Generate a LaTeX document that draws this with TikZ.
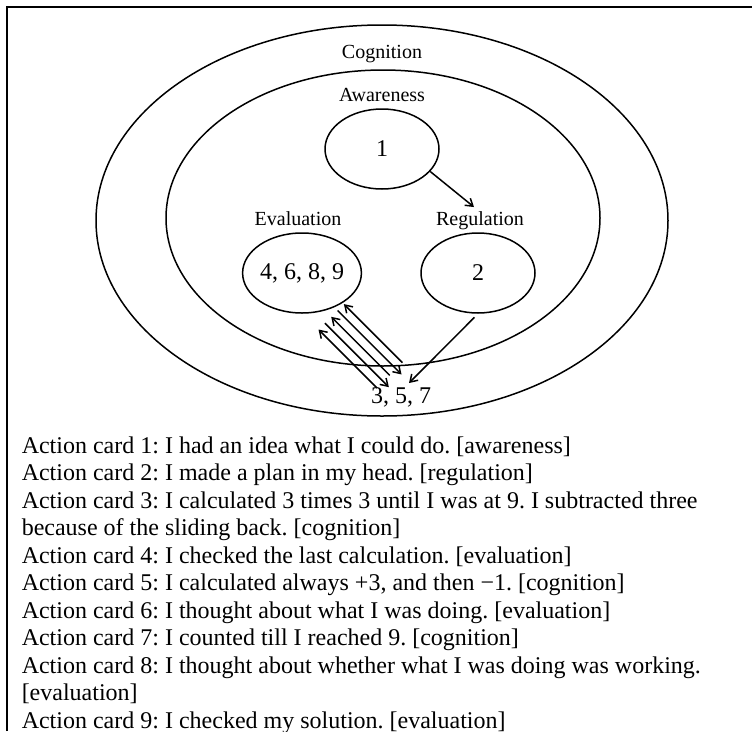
\documentclass[tikz,border=0pt]{standalone}
\usepackage{fontspec}
\setmainfont{Liberation Serif}
\usetikzlibrary{shapes.geometric}
\usetikzlibrary{arrows.meta}
\usetikzlibrary{calc}

\begin{document}
\frenchspacing
\begin{tikzpicture}[x=1pt, y=-1pt, line width=1.5pt,
    >={Straight Barb[length=7pt, width=9pt]},
    ring/.style={draw, ellipse, inner sep=0pt},
    tag/.style={font=\fontsize{20}{24}\selectfont},
    num/.style={font=\fontsize{24}{28}\selectfont},
    body/.style={font=\fontsize{24}{27.5}\selectfont, align=left, inner sep=0pt}]
    \useasboundingbox (0,0) rectangle (752,731);

    % frame
    \draw[line width=2pt] (7,731) -- (7,7) -- (752,7);

    % nested zones
    \node[ring, minimum width=572pt, minimum height=391pt] (cognition) at (382,220.5) {};
    \node[ring, minimum width=434pt, minimum height=296pt] (awarezone) at (383,218) {};
    \node[tag, anchor=base] (coglabel) at (382,58) {Cognition};
    \node[tag, anchor=base] (awlabel) at (382,101) {Awareness};

    % action cards in each zone
    \node[ring, num, minimum width=114pt, minimum height=80pt] (aw) at (382,149) {1};
    \node[tag, anchor=base] (evallabel) at (298,225) {Evaluation};
    \node[ring, num, minimum width=114pt, minimum height=80pt] (eval) at (302,273) {4, 6, 8, 9};
    \node[tag, anchor=base] (reglabel) at (480,225) {Regulation};
    \node[ring, num, minimum width=114pt, minimum height=80pt] (reg) at (478,273) {2};
    \node[num, anchor=base] (cards) at (401,403) {3, 5, 7};

    % order of the cards
    \draw[->] (aw.-25) -- ([xshift=-6pt]reglabel.north);
    \draw[->, shorten <=5pt] (reg.south) -- (cards.60);
    \coordinate (fan) at (361,348);
    \foreach \d in {-24, 1.4, 26.8}
        \draw[<-] ($(fan)+({\d/2-30.5},{-(\d)/2-30.5})$) -- ($(fan)+({\d/2+28},{-(\d)/2+28})$);
    \foreach \d in {-11.3, 14.1}
        \draw[->] ($(fan)+({\d/2-30.5},{-(\d)/2-30.5})$) -- ($(fan)+({\d/2+33.5},{-(\d)/2+33.5})$);

    % legend (base is the last line)
    \node[body, anchor=base west] (cardlist) at (21,728) {%
        Action card 1: I had an idea what I could do. [awareness]\\
        Action card 2: I made a plan in my head. [regulation]\\
        Action card 3: I calculated 3 times 3 until I was at 9. I subtracted three\\
        because of the sliding back. [cognition]\\
        Action card 4: I checked the last calculation. [evaluation]\\
        Action card 5: I calculated always +3, and then −1. [cognition]\\
        Action card 6: I thought about what I was doing. [evaluation]\\
        Action card 7: I counted till I reached 9. [cognition]\\
        Action card 8: I thought about whether what I was doing was working.\\
        {[evaluation]}\\
        Action card 9: I checked my solution. [evaluation]};
\end{tikzpicture}
\end{document}
